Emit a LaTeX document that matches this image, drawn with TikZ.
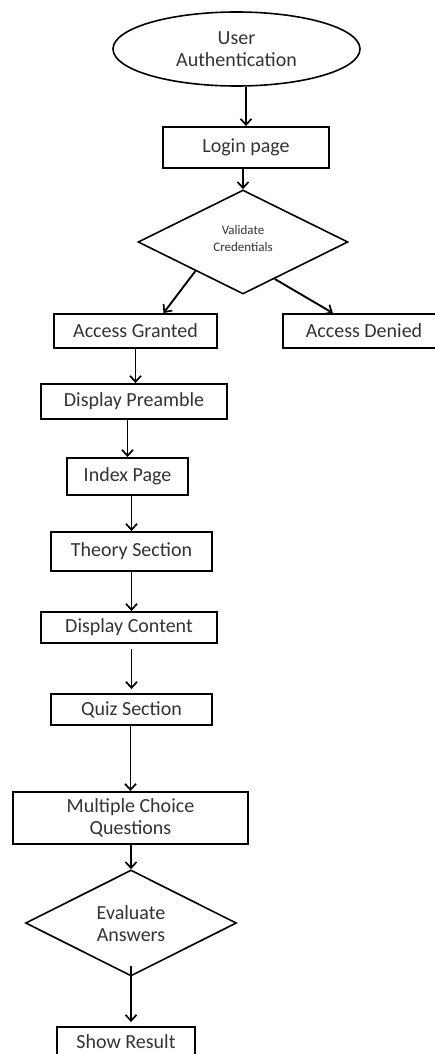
\documentclass[tikz,border=0pt]{standalone}
\usepackage{fontspec}
\setmainfont{Carlito}
\usetikzlibrary{shapes.geometric,arrows.meta,calc}
\begin{document}
\begin{tikzpicture}[x=1pt,y=-1pt,
  txt/.style={inner sep=0pt,align=center,text=black!80,font=\fontsize{20}{22}\selectfont},
  box/.style={draw,line width=1.9pt,rectangle,txt},
  dia/.style={draw,line width=1.6pt,diamond,inner sep=0pt},
  arr/.style={line width=1.9pt,-{Straight Barb[length=6pt,width=11pt,line width=1.7pt]}}]
\useasboundingbox (0,0) rectangle (435,1054);
\clip (0,0) rectangle (435,1054);
\fill[white] (0,0) rectangle (435,1054);
% nodes
\node[draw,ellipse,line width=1.6pt,minimum width=247pt,minimum height=74pt,txt] (ell) at (236.5,49) {User\\Authentication};
\node[box,minimum width=166pt,minimum height=41pt] (login) at (246,147.5) {Login page};
\node[dia,minimum width=210pt,minimum height=104pt] (d1) at (243,242) {};
\node[txt,font=\fontsize{13}{17}\selectfont] (d1t) at (243,238.5) {Validate\\Credentials};
\node[box,minimum width=163pt,minimum height=34pt] (granted) at (135.5,331) {Access Granted};
\node[box,minimum width=162pt,minimum height=34pt] (denied) at (364,331) {Access Denied};
\node[box,minimum width=186pt,minimum height=35pt] (dp) at (134,401.5) {Display Preamble};
\node[box,minimum width=121pt,minimum height=37pt] (index) at (127.5,476.5) {Index Page};
\node[box,minimum width=161pt,minimum height=39pt] (theory) at (131.5,551.5) {Theory Section};
\node[box,minimum width=176pt,minimum height=31pt] (dc) at (129,627.5) {Display Content};
\node[box,minimum width=161pt,minimum height=31pt] (quiz) at (131.5,709.5) {Quiz Section};
\node[box,minimum width=235pt,minimum height=52pt] (mcq) at (130.5,818) {Multiple Choice\\Questions};
\node[dia,minimum width=211pt,minimum height=106pt] (d2) at (131,923) {};
\node[txt] (d2t) at (131,924) {Evaluate\\Answers};
\node[box,minimum width=138pt,minimum height=30pt,text depth=0pt] (show) at (126,1042) {Show Result};
% connectors
\draw[arr] (ell.south -| login.north) -- (login.north);
\draw[arr] (login.south -| d1.north) -- (d1.north);
\draw[arr] ($(d1.south)!0.45!(d1.west)$) -- ($(granted.north west)!0.67!(granted.north east)$);
\draw[arr] ($(d1.south)!0.3!(d1.east)$) -- ($(denied.north west)!0.31!(denied.north east)$);
\draw[arr] (granted.south) -- (granted.south |- dp.north);
\draw[arr] (dp.south -| index.north) -- (index.north);
\draw[arr] (index.south -| theory.north) -- (theory.north);
\draw[arr] (theory.south) -- (theory.south |- dc.north);
\draw[arr,shorten <=5pt,shorten >=4pt] (dc.south -| quiz.north) -- (quiz.north);
\draw[arr] (quiz.south -| mcq.north) -- (mcq.north);
\draw[arr] (mcq.south -| d2.north) -- (d2.north);
\draw[arr,shorten >=4pt] ($(d2.south)+(0,-11)$) -- (d2.south |- show.north);
\end{tikzpicture}
\end{document}
